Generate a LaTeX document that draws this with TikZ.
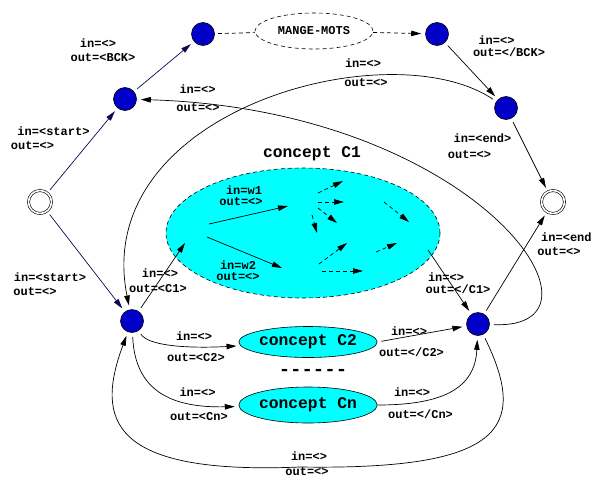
\documentclass[tikz,border=0pt]{standalone}
\usepackage{fontspec}
\setmonofont{Liberation Mono}
\usetikzlibrary{arrows.meta,shapes.geometric}
\definecolor{stateblue}{RGB}{0,0,200}
\definecolor{navyline}{RGB}{10,10,80}
\definecolor{cfill}{RGB}{0,255,255}
\begin{document}
\begin{tikzpicture}[x=1pt,y=-1pt,
  lbl/.style={font=\ttfamily\bfseries\fontsize{12}{14}\selectfont, inner sep=0pt},
  bigtxt/.style={font=\ttfamily\bfseries\fontsize{16.3}{18}\selectfont, inner sep=0pt},
  stnode/.style={circle, draw=black, fill=stateblue, minimum size=23pt, inner sep=0pt, line width=0.6pt},
  finnode/.style={circle, draw=black, double=white, double distance=1.6pt, line width=0.6pt, minimum size=23pt, inner sep=0pt},
  ar/.style={-{Triangle[length=10pt,width=5.5pt]}, line width=0.7pt, shorten >=4pt, shorten <=4pt},
  dsh/.style={dash pattern=on 4pt off 3pt},
  cellipse/.style={ellipse, draw=black, fill=cfill, line width=0.6pt, inner sep=0pt, font=\ttfamily\bfseries\fontsize{16.3}{18}\selectfont}
]
\useasboundingbox (0,0) rectangle (593,479);
\clip (0,0) rectangle (593,479);

% concept C1 big ellipse
\node[ellipse, draw=black, dsh, fill=cfill, line width=0.6pt, minimum width=274pt, minimum height=130pt, inner sep=0pt] (C1) at (303,233) {};
\node[bigtxt] (C1t) at (312,154) {concept C1};

% states
\node[stnode] (A) at (125,99) {};
\node[stnode] (B) at (203,34) {};
\node[stnode] (C) at (437,34) {};
\node[stnode] (D) at (506,108) {};
\node[stnode] (E) at (132,321) {};
\node[stnode] (F) at (478,324) {};
\node[finnode] (S) at (40,202) {};
\node[finnode] (T) at (553,202) {};

\node[ellipse, draw=black, dsh, line width=0.6pt, minimum width=118pt, minimum height=36pt, inner sep=0pt, lbl] (MM) at (314,31) {MANGE-MOTS};

\node[cellipse, minimum width=117pt, minimum height=31pt] (C2) at (308,342) {concept C2};
\node[cellipse, minimum width=117pt, minimum height=36pt] (Cn) at (308,405) {concept Cn};
\node[font=\ttfamily\bfseries\fontsize{19}{20}\selectfont, inner sep=0pt] (dots) at (313,372) {-{}-{}-{}-{}-{}-};

\coordinate (c1in) at (185,243);
\coordinate (c1out) at (428,250);

% straight connectors
\draw[ar, draw=navyline] (S) -- (A);
\draw[ar, draw=navyline] (A) -- (B);
\draw[ar, draw=navyline] (S) -- (E);
\draw[line width=0.7pt, dsh, shorten <=3pt] (B) -- (MM);
\draw[ar, dsh, shorten <=0pt] (MM) -- (C);
\draw[ar] (C) -- (D);
\draw[ar] (D) -- (T);
\draw[ar, shorten >=0pt] (E) -- (c1in);
\draw[ar, shorten <=0pt] (c1out) -- (F);
\draw[ar] (F) -- (T);
\draw[ar] (C2.east) -- (F);

% curved connectors
\draw[ar] (D) .. controls (390,30) and (90,110) .. (E);
\draw[ar] (F) .. controls (625,330) and (480,110) .. (A);
\draw[line width=0.7pt, shorten <=4pt] (F) .. controls (530,430) and (500,470) .. (300,467);
\draw[ar, shorten <=0pt] (300,467) .. controls (110,475) and (95,420) .. (E);
\draw[ar] (E) .. controls (150,348) and (200,348) .. (C2);
\draw[ar] (E) .. controls (135,390) and (170,408) .. (Cn);
\draw[ar, shorten <=0pt] (Cn.east) .. controls (440,405) and (475,390) .. (F);

% arrows inside concept C1
\draw[ar, shorten <=0pt, shorten >=0pt] (209,224) -- (288,206);
\draw[ar, shorten <=0pt, shorten >=0pt] (207,237) -- (282,268);
\foreach \a/\b in {{(318,193)}/{(343,181)}, {(318,202)}/{(344,202)}, {(318,208)}/{(337,223)},
  {(312,215)}/{(317,233)}, {(384,202)}/{(409,222)}, {(319,264)}/{(347,243)},
  {(376,252)}/{(397,243)}, {(322,271)}/{(363,271)}}
  \draw[ar, dsh, shorten <=0pt, shorten >=0pt] \a -- \b;

% labels
\node[lbl] (l1) at (98,43) {in=<>};
\node[lbl] (l2) at (103,58) {out=<BCK>};
\node[lbl] (l3) at (53.5,131) {in=<start>};
\node[lbl] (l4) at (32.5,146) {out=<>};
\node[lbl] (l5) at (197.5,89) {in=<>};
\node[lbl] (l6) at (198,108) {out=<>};
\node[lbl] (l7) at (363,63) {in=<>};
\node[lbl] (l8) at (366,83) {out=<>};
\node[lbl] (l9) at (496.5,40) {in=<>};
\node[lbl] (l10) at (509,52) {out=</BCK>};
\node[lbl] (l11) at (482.5,138) {in=<end>};
\node[lbl] (l12) at (469.5,155) {out=<>};
\node[lbl, anchor=west] (l13) at (541,237) {in=<end};
\node[lbl] (l14) at (559,252) {out=<>};
\node[lbl] (l15) at (50,277) {in=<start>};
\node[lbl] (l16) at (35,292) {out=<>};
\node[lbl] (l17) at (160,273) {in=<>};
\node[lbl] (l18) at (158,289) {out=<C1>};
\node[lbl] (l19) at (244,190) {in=w1};
\node[lbl] (l20) at (241,202) {out=<>};
\node[lbl] (l21) at (238,265) {in=w2};
\node[lbl] (l22) at (238,277) {out=<>};
\node[lbl] (l23) at (446,277) {in=<>};
\node[lbl] (l24) at (458,289) {out=</C1>};
\node[lbl] (l25) at (194,336) {in=<>};
\node[lbl] (l26) at (196,358) {out=<C2>};
\node[lbl] (l27) at (197.5,392) {in=<>};
\node[lbl] (l28) at (199,417) {out=<Cn>};
\node[lbl] (l29) at (409,331) {in=<>};
\node[lbl] (l30) at (411.5,352) {out=</C2>};
\node[lbl] (l31) at (412,392) {in=<>};
\node[lbl] (l32) at (420.5,414) {out=</Cn>};
\node[lbl] (l33) at (309,456) {in=<>};
\node[lbl] (l34) at (307,472) {out=<>};
\end{tikzpicture}
\end{document}
